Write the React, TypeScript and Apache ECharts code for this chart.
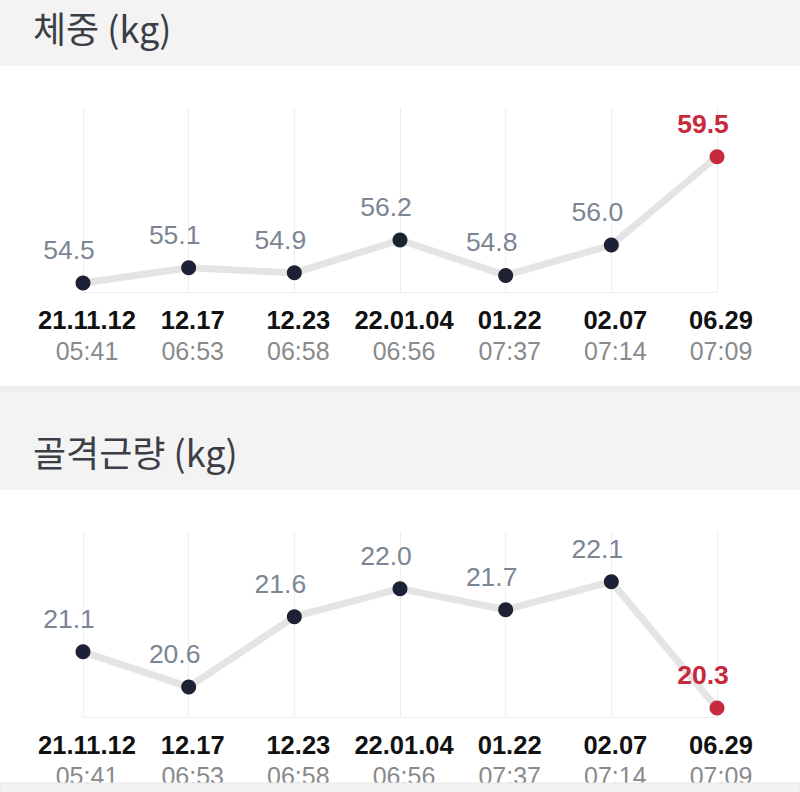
import React, { useEffect, useRef } from "react";
import * as echarts from "echarts";

const dates = ["21.11.12", "12.17", "12.23", "22.01.04", "01.22", "02.07", "06.29"];
const times = ["05:41", "06:53", "06:58", "06:56", "07:37", "07:14", "07:09"];
const weight = [54.5, 55.1, 54.9, 56.2, 54.8, 56.0, 59.5];
const muscle = [21.1, 20.6, 21.6, 22.0, 21.7, 22.1, 20.3];
const titles = ["체중 (kg)", "골격근량 (kg)"];

const LATIN = "'Liberation Sans', Arial, Helvetica, sans-serif";
const KR = "'Noto Sans CJK KR', 'Noto Sans', sans-serif";
const RED = "#c62a3c";

export default function App() {
  const ref = useRef<HTMLDivElement>(null);
  useEffect(() => {
    document.body.style.margin = "0";
    const chart = echarts.init(ref.current!, null, { renderer: "svg" });
    const cats = dates.map((d, i) => `${d}\n${times[i]}`);
    const grids = [
      { left: 83, right: 83, top: 107, height: 185 },
      { left: 83, right: 83, top: 532, height: 185 },
    ];
    const xAxes = grids.map((_, gi) => ({
      type: "category",
      gridIndex: gi,
      data: cats,
      boundaryGap: false,
      axisTick: { show: false },
      axisLine: { show: true, lineStyle: { color: "#eeeeee", width: 1 } },
      splitLine: { show: true, lineStyle: { color: "#eeeeee", width: 1 } },
      axisLabel: {
        interval: 0,
        margin: 12,
        padding: [0, 0, 0, 8],
        formatter: (v: string) => {
          const [d, t] = v.split("\n");
          return `{d|${d}}\n{t|${t}}`;
        },
        rich: {
          d: { fontFamily: LATIN, fontSize: 25.5, fontWeight: "bold", color: "#111111", lineHeight: 31 },
          t: { fontFamily: LATIN, fontSize: 25, color: "#8a8a8a", lineHeight: 31 },
        },
      },
    }));
    const yAxes = grids.map((_, gi) => ({
      type: "value",
      gridIndex: gi,
      show: false,
      scale: true,
      min: (v: any) => v.min - ((v.max - v.min) * 9) / 126,
      max: (v: any) => v.max + ((v.max - v.min) * 49.5) / 126,
      splitLine: { show: false },
    }));
    const mkSeries = (vals: number[], gi: number) => ({
      type: "line",
      xAxisIndex: gi,
      yAxisIndex: gi,
      data: vals.map((v, i) =>
        i === vals.length - 1
          ? {
              value: v,
              itemStyle: { color: RED },
              label: { color: RED, fontWeight: "bold" },
            }
          : v
      ),
      symbol: "circle",
      symbolSize: 15,
      lineStyle: { color: "#e4e4e4", width: 7 },
      itemStyle: { color: "#1d2134" },
      label: {
        show: true,
        position: "top",
        distance: 12,
        offset: [-14, 0],
        fontFamily: LATIN,
        fontSize: 26.5,
        color: "#7b8593",
        formatter: (p: any) => Number(p.value).toFixed(1),
      },
      z: 3,
    });
    chart.setOption({
      animation: false,
      backgroundColor: "#f3f3f3",
      grid: grids,
      xAxis: xAxes,
      yAxis: yAxes,
      series: [mkSeries(weight, 0), mkSeries(muscle, 1)],
      graphic: [
        { type: "rect", shape: { x: 0, y: 66, width: 800, height: 320 }, style: { fill: "#ffffff" }, z: -10 },
        { type: "rect", shape: { x: 0, y: 490, width: 800, height: 293 }, style: { fill: "#ffffff" }, z: -10 },
        { type: "rect", shape: { x: 0, y: 386, width: 800, height: 6 }, style: { fill: "#ececec" }, z: -9 },
        { type: "rect", shape: { x: 0, y: 783, width: 800, height: 9 }, style: { fill: "#f3f3f3", stroke: "#e8e8e8", lineWidth: 1 }, z: 100 },
        {
          type: "text", x: 33, y: 27, z: 10,
          style: { text: titles[0], font: `36px ${KR}`, fill: "#3c3e45", verticalAlign: "middle" },
        },
        {
          type: "text", x: 33, y: 451, z: 10,
          style: { text: titles[1], font: `36px ${KR}`, fill: "#3c3e45", verticalAlign: "middle" },
        },
      ],
    });
    return () => chart.dispose();
  }, []);
  return <div ref={ref} style={{ position: "fixed", left: 0, top: 0, width: 800, height: 792 }} />;
}
